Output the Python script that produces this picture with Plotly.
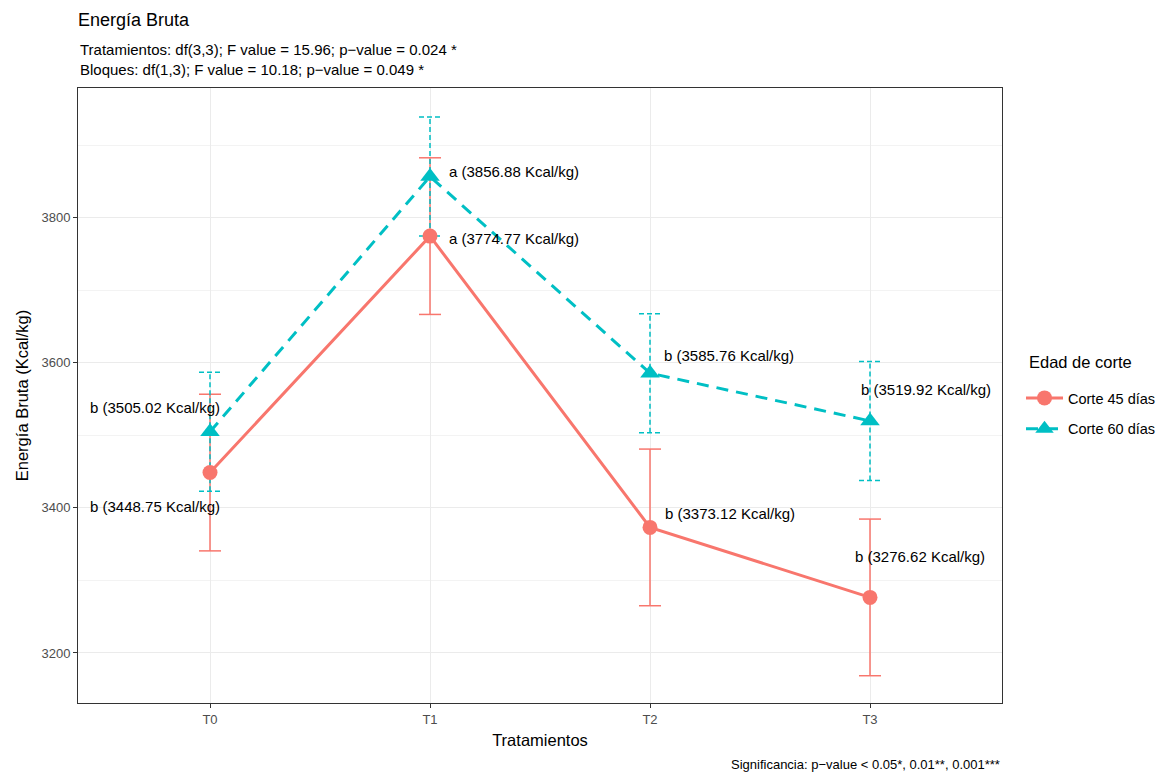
import plotly.graph_objects as go

tratamientos = ["T0", "T1", "T2", "T3"]
media_45 = [3448.75, 3774.77, 3373.12, 3276.62]
media_60 = [3505.02, 3856.88, 3585.76, 3519.92]
se_45 = [108, 108, 108, 108]
se_60 = [82, 82, 82, 82]
letras_45 = ["b", "a", "b", "b"]
letras_60 = ["b", "a", "b", "b"]
series = ["Corte 45 días", "Corte 60 días"]

col45 = "#F8766D"
col60 = "#00BFC4"
FONT = "Liberation Sans, Arial, sans-serif"
xs = list(range(len(tratamientos)))
cap = 0.05


def errbar_paths(means, ses):
    vx, vy, cx, cy = [], [], [], []
    for i, m, s in zip(xs, means, ses):
        vx += [i, i, None]
        vy += [m - s, m + s, None]
        for yv in (m - s, m + s):
            cx += [i - cap, i + cap, None]
            cy += [yv, yv, None]
    return vx, vy, cx, cy


fig = go.Figure()

for means, ses, col, dash in [(media_45, se_45, col45, "solid"), (media_60, se_60, col60, "5px,3px")]:
    vx, vy, cx, cy = errbar_paths(means, ses)
    fig.add_trace(go.Scatter(x=vx, y=vy, mode="lines", showlegend=False, hoverinfo="skip",
                             line=dict(color=col, width=1.5, dash=dash)))
    fig.add_trace(go.Scatter(x=cx, y=cy, mode="lines", showlegend=False, hoverinfo="skip",
                             line=dict(color=col, width=1.5, dash=dash)))

fig.add_trace(go.Scatter(x=xs, y=media_45, mode="lines+markers", name=series[0],
                         legendgroup="g45",
                         line=dict(color=col45, width=3),
                         marker=dict(symbol="circle", size=15, color=col45)))
fig.add_trace(go.Scatter(x=xs, y=media_60, mode="lines+markers", name=series[1],
                         legendgroup="g60",
                         line=dict(color=col60, width=3, dash="12px,8px"),
                         marker=dict(symbol="triangle-up", size=17, color=col60)))

# label placement (pixel offsets)
pos_45 = [("right", 12, -34), ("left", 17, -2), ("left", 13, 14), ("left", -17, 41)]
pos_60 = [("right", 12, 24), ("left", 17, 5), ("left", 12, 18), ("left", -11, 31)]

for means, letras, pos in [(media_45, letras_45, pos_45), (media_60, letras_60, pos_60)]:
    for i, m, l, (anc, dx, dy) in zip(xs, means, letras, pos):
        fig.add_annotation(x=i, y=m, text=f"{l} ({m:.2f} Kcal/kg)", showarrow=False,
                           xanchor=anc, yanchor="middle", xshift=dx, yshift=dy,
                           font=dict(size=15, color="#000000", family=FONT))

fig.add_annotation(x=0, y=1, xref="paper", yref="paper", xanchor="left", yanchor="bottom",
                   yshift=8, showarrow=False, align="left",
                   text="Tratamientos: df(3,3); F value = 15.96; p\u2212value = 0.024 *<br>"
                        "Bloques: df(1,3); F value = 10.18; p\u2212value = 0.049 *",
                   font=dict(size=15, color="#000000", family=FONT))
fig.add_annotation(x=1, y=0, xref="paper", yref="paper", xanchor="right", yanchor="top",
                   yshift=-52, showarrow=False,
                   text="Significancia: p\u2212value < 0.05*, 0.01**, 0.001***",
                   font=dict(size=13, color="#000000", family=FONT))
fig.add_annotation(x=1, y=(703 - 362) / 615, xref="paper", yref="paper", xanchor="left",
                   yanchor="middle", xshift=25, showarrow=False,
                   text="Edad de corte", font=dict(size=16.5, color="#000000", family=FONT))

fig.update_layout(
    width=1173, height=776,
    margin=dict(l=78, r=171, t=88, b=73),
    paper_bgcolor="white", plot_bgcolor="white",
    font=dict(family=FONT),
    title=dict(text="Energía Bruta", x=78 / 1173, xanchor="left", y=1 - 20 / 776, yanchor="middle",
               font=dict(size=18, color="#000000", family=FONT)),
    legend=dict(xref="container", yref="container", x=1021 / 1173, xanchor="left",
                y=(776 - 382) / 776, yanchor="top", bgcolor="rgba(0,0,0,0)",
                font=dict(size=14.5, color="#000000"), itemwidth=37, tracegroupgap=9),
    xaxis=dict(range=[-0.6, 3.6], tickmode="array", tickvals=xs, ticktext=tratamientos,
               showgrid=True, gridcolor="#EBEBEB", gridwidth=1.2, zeroline=False,
               showline=True, linecolor="#333333", linewidth=1, mirror=True,
               ticks="outside", ticklen=4, tickcolor="#333333", automargin=False,
               tickfont=dict(size=13, color="#4D4D4D"),
               title=dict(text="Tratamientos", font=dict(size=16.5, color="#000000"), standoff=8)),
    yaxis=dict(range=[3131, 3979], dtick=200, tick0=3200, automargin=False,
               showgrid=True, gridcolor="#EBEBEB", gridwidth=1.2, zeroline=False,
               minor=dict(dtick=100, tick0=3100, showgrid=True, gridcolor="#F3F3F3", gridwidth=0.6),
               showline=True, linecolor="#333333", linewidth=1, mirror=True,
               ticks="outside", ticklen=4, tickcolor="#333333",
               tickfont=dict(size=13, color="#4D4D4D"),
               title=dict(text="Energía Bruta (Kcal/kg)", font=dict(size=16.5, color="#000000"), standoff=8)),
)

fig.write_html("out.html", config={"displayModeBar": False},
               post_script="document.body.style.margin='0px';"
                           "document.body.style.overflow='hidden';"
                           "document.documentElement.style.overflow='hidden';")
